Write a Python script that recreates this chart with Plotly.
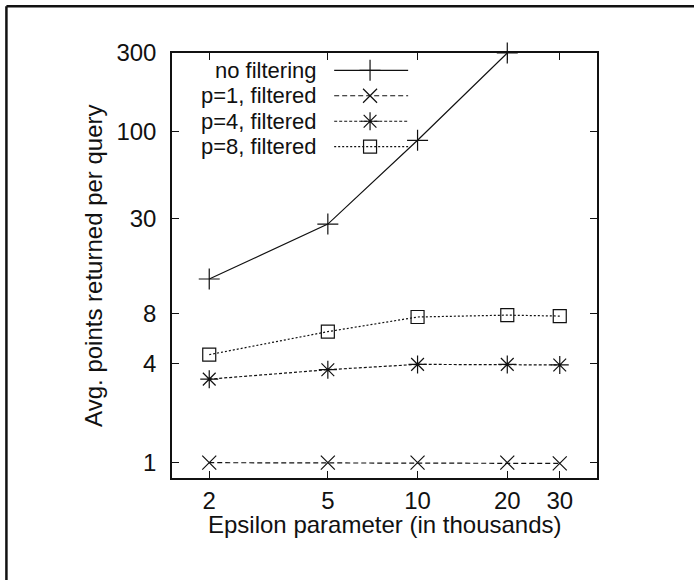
import plotly.graph_objects as go
import math

# ---- data ----
eps = [2, 5, 10, 20, 30]
no_filter_x = [2, 5, 10, 20]
no_filter_y = [12.9, 27.7, 89, 300]
p1_y = [1.0, 1.0, 1.0, 1.0, 0.99]
p4_y = [3.2, 3.65, 3.93, 3.93, 3.9]
p8_y = [4.5, 6.2, 7.6, 7.8, 7.7]
series_names = ["no filtering", "p=1, filtered", "p=4, filtered", "p=8, filtered"]
x_ticks = [2, 5, 10, 20, 30]
y_ticks = [1, 4, 8, 30, 100, 300]

FONT = "Liberation Sans, Arial, Helvetica, sans-serif"
FS = 24
KEY_FS = 22
INK = "#111111"

styles = [
    dict(dash="solid", symbol="cross-thin-open", size=15),
    dict(dash="5px,3px", symbol="x-thin-open", size=14),
    dict(dash="3px,2px", symbol="asterisk-open", size=15),
    dict(dash="2px,2px", symbol="square-open", size=13),
]
xs = [no_filter_x, eps, eps, eps]
ys = [no_filter_y, p1_y, p4_y, p8_y]

fig = go.Figure()
for name, x, y, st in zip(series_names, xs, ys, styles):
    fig.add_trace(go.Scatter(
        x=x, y=y, name=name, mode="lines+markers", cliponaxis=False,
        line=dict(color=INK, width=1.2, dash=st["dash"]),
        marker=dict(symbol=st["symbol"], size=st["size"], color=INK,
                    line=dict(color=INK, width=1.2)),
        showlegend=False,
    ))

# gnuplot-style key: text right-aligned, then sample line with marker
key_rows = [0.9593, 0.8994, 0.8394, 0.7795]
key_line = [0.3816, 0.5556]
key_mark = 0.466
key_text_x = 0.344
for name, st, ky in zip(series_names, styles, key_rows):
    fig.add_trace(go.Scatter(
        x=key_line, y=[ky, ky], mode="lines", xaxis="x2", yaxis="y2",
        line=dict(color=INK, width=1.2, dash=st["dash"]), showlegend=False,
        hoverinfo="skip"))
    fig.add_trace(go.Scatter(
        x=[key_mark], y=[ky], mode="markers", xaxis="x2", yaxis="y2",
        marker=dict(symbol=st["symbol"], size=st["size"], color=INK,
                    line=dict(color=INK, width=1.2)),
        showlegend=False, hoverinfo="skip"))
    fig.add_annotation(x=key_text_x, y=ky, xref="paper", yref="paper",
                       text=name, showarrow=False, xanchor="right",
                       yanchor="middle", borderpad=0,
                       font=dict(family=FONT, size=KEY_FS, color=INK))

axis_common = dict(
    type="log", showgrid=False, zeroline=False, showline=True,
    linecolor=INK, linewidth=1.5, mirror="ticks", ticks="inside",
    ticklen=7, tickwidth=1.3, tickcolor=INK,
    tickfont=dict(family=FONT, size=FS, color=INK),
)

fig.update_layout(
    width=694, height=580,
    margin=dict(l=172, r=97, t=53, b=102),
    paper_bgcolor="white", plot_bgcolor="white",
    xaxis=dict(**axis_common, range=[math.log10(1.5), math.log10(40)],
               tickvals=x_ticks, ticktext=[str(v) for v in x_ticks],
               ticklabelstandoff=0),
    yaxis=dict(**axis_common, range=[math.log10(0.808), math.log10(300)],
               tickvals=y_ticks, ticktext=[str(v) for v in y_ticks],
               ticklabelstandoff=9),
    xaxis2=dict(overlaying="x", range=[0, 1], visible=False),
    yaxis2=dict(overlaying="y", range=[0, 1], visible=False),
    showlegend=False,
)

fig.add_annotation(x=0.5, y=-0.110, xref="paper", yref="paper",
                   text="Epsilon parameter (in thousands)", showarrow=False,
                   xanchor="center", yanchor="middle",
                   font=dict(family=FONT, size=FS, color=INK))
fig.add_annotation(x=-0.185, y=0.5, xref="paper", yref="paper",
                   text="Avg. points returned per query", showarrow=False,
                   textangle=-90, xanchor="center", yanchor="middle",
                   font=dict(family=FONT, size=FS, color=INK))

# outer frame (left and top edges visible)
W = 425.3
def px_x(p):
    return (p - 171.7) / W
def px_y(p):
    return (478.0 - p) / W
fig.add_shape(type="line", xref="paper", yref="paper",
              x0=px_x(6), x1=px_x(700), y0=px_y(6), y1=px_y(6),
              line=dict(color=INK, width=2.5))
fig.add_shape(type="line", xref="paper", yref="paper",
              x0=px_x(6), x1=px_x(6), y0=px_y(6), y1=px_y(600),
              line=dict(color=INK, width=2.5))

fig.write_html("out.html")
